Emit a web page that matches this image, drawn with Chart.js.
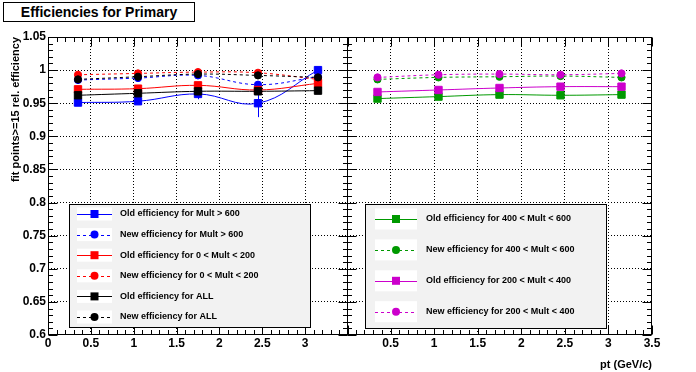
<!DOCTYPE html>
<html>
<head>
<meta charset="utf-8">
<script src="https://cdn.jsdelivr.net/npm/chart.js@4.4.1/dist/chart.umd.min.js"></script>
<style>
  body { margin: 0; background: #fff; }
  #wrap { position: relative; width: 696px; height: 372px; background: #fff; overflow: hidden; }
  canvas { position: absolute; top: 0; }
  #title {
    position: absolute; left: 3px; top: 2px; width: 190px; height: 18px;
    border: 1px solid #000; background: #fff;
    font: bold 14px "Liberation Sans", Arial, sans-serif; line-height: 18px;
    text-align: center; color: #000;
  }
</style>
</head>
<body>
<div id="wrap">
  <canvas id="leftChart" width="349" height="372" style="left:0"></canvas>
  <canvas id="rightChart" width="356" height="372" style="left:340px"></canvas>
  <div id="title">Efficiencies for Primary</div>
</div>
<script>
// pt bin centres (GeV/c)
const ptBins = [0.35, 1.05, 1.75, 2.45, 3.15];

// left pad
const oldMult600 = [0.951, 0.953, 0.964, 0.950, 1.000];
const oldMult600Err = [0.002, 0.002, 0.008, 0.021, 0.003];
const newMult600 = [0.985, 0.988, 0.992, 0.978, 0.990];
const oldMult0to200 = [0.971, 0.972, 0.977, 0.970, 0.980];
const newMult0to200 = [0.993, 0.995, 0.997, 0.996, 0.986];
const oldAll = [0.962, 0.965, 0.968, 0.968, 0.969];
const newAll = [0.986, 0.990, 0.994, 0.992, 0.989];

// right pad
const oldMult400to600 = [0.957, 0.960, 0.963, 0.962, 0.963];
const newMult400to600 = [0.986, 0.989, 0.990, 0.991, 0.989];
const oldMult200to400 = [0.967, 0.970, 0.973, 0.975, 0.975];
const newMult200to400 = [0.989, 0.993, 0.994, 0.993, 0.995];

const leftXLabels = ['0', '0.5', '1', '1.5', '2', '2.5', '3'];
const rightXLabels = ['0.5', '1', '1.5', '2', '2.5', '3', '3.5'];
const yLabels = ['0.6', '0.65', '0.7', '0.75', '0.8', '0.85', '0.9', '0.95', '1', '1.05'];

const FONT = '"Liberation Sans", Arial, sans-serif';
const BLUE = '#0000ff', RED = '#ff0000', BLACK = '#000000', GREEN = '#009900', MAGENTA = '#cc00cc';

function fmt(v) { return String(Math.round(v * 100) / 100); }
function isMult(v, step) { return Math.abs(v / step - Math.round(v / step)) < 1e-6; }

function series(label, values, color, dashed, order, errs) {
  return {
    label: label,
    data: values.map((y, i) => ({ x: ptBins[i], y: y })),
    borderColor: color,
    backgroundColor: color,
    borderWidth: 1,
    borderDash: dashed ? [3, 3] : [],
    pointStyle: dashed ? 'circle' : 'rect',
    pointRadius: dashed ? 3.6 : 5.2,
    pointHoverRadius: dashed ? 3.6 : 5.2,
    pointBorderWidth: 1,
    tension: 0.4,
    order: order,
    errors: errs
  };
}

// ROOT-like frame with inward ticks on all four sides
const framePlugin = {
  id: 'frame',
  afterDraw(chart) {
    const { ctx, chartArea: a, scales } = chart;
    const L = Math.round(a.left) + 0.5, R = Math.round(a.right) - 0.5;
    const T = Math.round(a.top) + 0.5, B = Math.round(a.bottom) - 0.5;
    ctx.save();
    ctx.strokeStyle = '#000';
    ctx.lineWidth = 1;
    ctx.setLineDash([]);
    ctx.strokeRect(L, T, R - L, B - T);
    ctx.beginPath();
    scales.x.ticks.forEach(t => {
      const px = Math.round(scales.x.getPixelForValue(t.value)) + 0.5;
      const len = isMult(t.value, 0.5) ? 9 : 4.5;
      ctx.moveTo(px, B); ctx.lineTo(px, B - len);
      ctx.moveTo(px, T); ctx.lineTo(px, T + len);
    });
    scales.y.ticks.forEach(t => {
      const py = Math.round(scales.y.getPixelForValue(t.value)) + 0.5;
      const len = isMult(t.value, 0.05) ? 9 : 4.5;
      ctx.moveTo(L, py); ctx.lineTo(L + len, py);
      ctx.moveTo(R, py); ctx.lineTo(R - len, py);
    });
    ctx.stroke();
    ctx.restore();
  }
};

// vertical error bars drawn under the markers
const errorBarPlugin = {
  id: 'errbars',
  beforeDatasetsDraw(chart) {
    const { ctx, scales } = chart;
    ctx.save();
    ctx.lineWidth = 1;
    chart.data.datasets.forEach(ds => {
      if (!ds.errors) return;
      ctx.strokeStyle = ds.borderColor;
      ctx.beginPath();
      ds.data.forEach((p, i) => {
        const px = Math.round(scales.x.getPixelForValue(p.x)) + 0.5;
        ctx.moveTo(px, scales.y.getPixelForValue(p.y - ds.errors[i]));
        ctx.lineTo(px, scales.y.getPixelForValue(p.y + ds.errors[i]));
      });
      ctx.stroke();
    });
    ctx.restore();
  }
};

// ROOT TLegend style box
const legendBoxPlugin = {
  id: 'legendBox',
  afterDraw(chart, args, opts) {
    const { ctx } = chart;
    const b = opts.box;
    ctx.save();
    ctx.fillStyle = '#f2f2f2';
    ctx.fillRect(b.x, b.y, b.w, b.h);
    ctx.strokeStyle = '#000';
    ctx.lineWidth = 1;
    ctx.setLineDash([]);
    ctx.strokeRect(b.x + 0.5, b.y + 0.5, b.w, b.h);
    chart.data.datasets.forEach((ds, i) => {
      const cy = b.y + opts.firstY + i * opts.rowH;
      ctx.fillStyle = '#fff';
      ctx.fillRect(opts.sampleX, cy - opts.sampleH / 2, opts.sampleW, opts.sampleH);
      ctx.strokeStyle = ds.borderColor;
      ctx.setLineDash(ds.borderDash);
      ctx.beginPath();
      ctx.moveTo(opts.sampleX, Math.round(cy) + 0.5);
      ctx.lineTo(opts.sampleX + opts.sampleW, Math.round(cy) + 0.5);
      ctx.stroke();
      ctx.setLineDash([]);
      ctx.fillStyle = ds.borderColor;
      const mx = opts.sampleX + opts.sampleW / 2;
      if (ds.pointStyle === 'rect') {
        ctx.fillRect(mx - 4, cy - 4, 8, 8);
      } else {
        ctx.beginPath();
        ctx.arc(mx, cy, 4, 0, Math.PI * 2);
        ctx.fill();
      }
      ctx.fillStyle = '#000';
      ctx.font = 'bold 9px ' + FONT;
      ctx.textBaseline = 'middle';
      ctx.textAlign = 'left';
      ctx.fillText(ds.label, opts.textX, cy);
    });
    ctx.restore();
  }
};

function scalesFor(showLeftLabels, xLabels, yWidth, xTitle) {
  return {
    x: {
      type: 'linear', min: 0, max: 3.5,
      afterFit: s => { s.height = 37; s.paddingLeft = 0; s.paddingRight = 0; },
      afterBuildTicks: s => { s.ticks = s.ticks.filter(t => t.value >= -1e-9 && t.value <= 3.5 + 1e-9); },
      ticks: {
        stepSize: 0.1, maxTicksLimit: 100, autoSkip: false, maxRotation: 0,
        color: '#000', font: { family: FONT, size: 12, weight: 'bold' }, padding: 1,
        callback: v => (isMult(v, 0.5) && xLabels.includes(fmt(v))) ? fmt(v) : ''
      },
      grid: {
        drawTicks: false,
        color: c => (isMult(c.tick.value, 0.5) && c.tick.value > 0.01 && c.tick.value < 3.49) ? '#000' : 'rgba(0,0,0,0)'
      },
      border: { display: false, dash: [1, 2] },
      title: {
        display: !!xTitle, text: xTitle || '', align: 'end', color: '#000',
        font: { family: FONT, size: 11, weight: 'bold' }, padding: { top: 0, bottom: 0 }
      }
    },
    y: {
      type: 'linear', min: 0.6, max: 1.05,
      afterFit: s => { s.width = yWidth; s.paddingTop = 0; s.paddingBottom = 0; },
      ticks: {
        stepSize: 0.01, maxTicksLimit: 100, autoSkip: false,
        display: showLeftLabels,
        color: '#000', font: { family: FONT, size: 12, weight: 'bold' }, padding: 2,
        callback: v => (isMult(v, 0.05) && yLabels.includes(fmt(v))) ? fmt(v) : ''
      },
      grid: {
        drawTicks: false,
        color: c => (isMult(c.tick.value, 0.05) && c.tick.value > 0.61 && c.tick.value < 1.04) ? '#000' : 'rgba(0,0,0,0)'
      },
      border: { display: false, dash: [1, 2] },
      title: {
        display: showLeftLabels, text: 'fit points>=15 rel. efficiency', align: 'end', color: '#000',
        font: { family: FONT, size: 11, weight: 'bold' }, padding: { top: 9, bottom: 0 }
      }
    }
  };
}

function baseOptions(scales, legendOpts, padRight) {
  return {
    responsive: false,
    animation: false,
    events: [],
    layout: { autoPadding: false, padding: { top: 37, right: padRight, left: 0, bottom: 0 } },
    plugins: {
      legend: { display: false },
      tooltip: { enabled: false },
      legendBox: legendOpts
    },
    scales: scales
  };
}

new Chart(document.getElementById('leftChart').getContext('2d'), {
  type: 'line',
  data: {
    datasets: [
      series('Old efficiency for Mult > 600', oldMult600, BLUE, false, 6, oldMult600Err),
      series('New efficiency for Mult > 600', newMult600, BLUE, true, 5),
      series('Old efficiency for 0 < Mult < 200', oldMult0to200, RED, false, 4),
      series('New efficiency for 0 < Mult < 200', newMult0to200, RED, true, 3),
      series('Old efficiency for ALL', oldAll, BLACK, false, 2),
      series('New efficiency for ALL', newAll, BLACK, true, 1)
    ]
  },
  options: baseOptions(
    scalesFor(true, leftXLabels, 48, null),
    { box: { x: 69, y: 204, w: 241, h: 123 }, firstY: 10, rowH: 20.6,
      sampleX: 77, sampleW: 35, sampleH: 13, textX: 120 },
    1
  ),
  plugins: [errorBarPlugin, framePlugin, legendBoxPlugin]
});

new Chart(document.getElementById('rightChart').getContext('2d'), {
  type: 'line',
  data: {
    datasets: [
      series('Old efficiency for 400 < Mult < 600', oldMult400to600, GREEN, false, 4),
      series('New efficiency for 400 < Mult < 600', newMult400to600, GREEN, true, 3),
      series('Old efficiency for 200 < Mult < 400', oldMult200to400, MAGENTA, false, 2),
      series('New efficiency for 200 < Mult < 400', newMult200to400, MAGENTA, true, 1)
    ]
  },
  options: baseOptions(
    scalesFor(false, rightXLabels, 7, 'pt (GeV/c)'),
    { box: { x: 25, y: 204, w: 241, h: 124 }, firstY: 15, rowH: 30.9,
      sampleX: 35, sampleW: 42, sampleH: 21, textX: 86 },
    44
  ),
  plugins: [errorBarPlugin, framePlugin, legendBoxPlugin]
});
</script>
</body>
</html>
